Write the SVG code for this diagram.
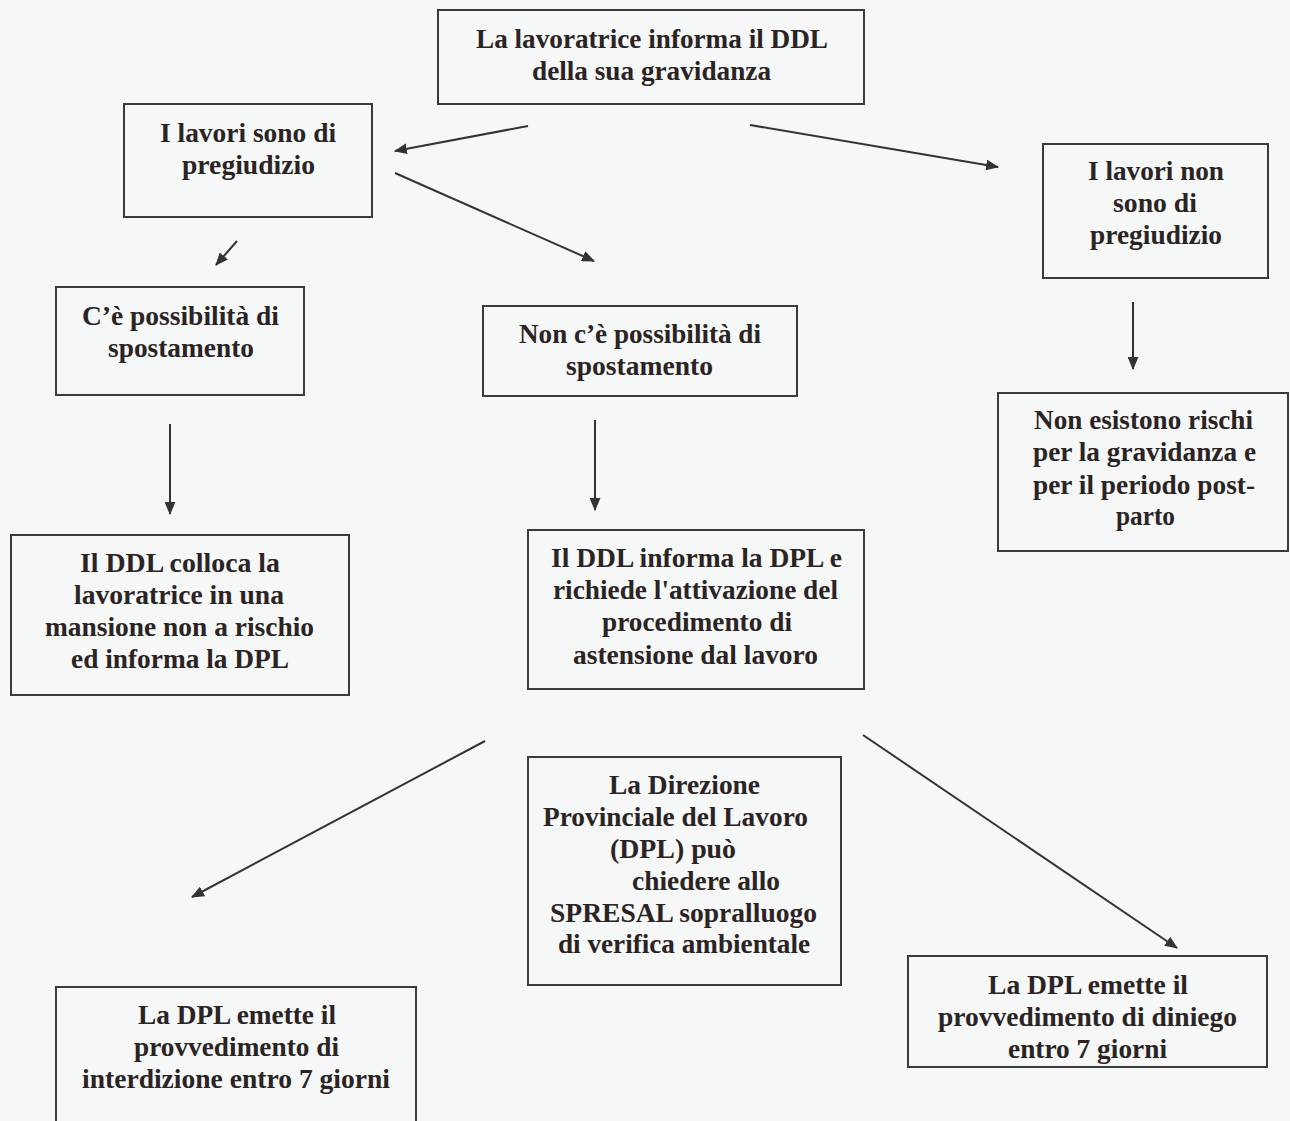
<svg xmlns="http://www.w3.org/2000/svg" width="1290" height="1121" viewBox="0 0 1290 1121">
<style>
.bg{fill:#f6f7f7}
.box{fill:none;stroke:#3a3a3a;stroke-width:2}
.t{font-family:"Liberation Serif","Times New Roman",serif;font-weight:bold;font-size:28px;fill:#2b2424}
.c{stroke:#333;stroke-width:2;fill:none;marker-end:url(#ah)}
</style>
<defs>
<marker id="ah" viewBox="0 0 12 10" refX="11" refY="5" markerWidth="13" markerHeight="11" markerUnits="userSpaceOnUse" orient="auto">
<path d="M0,0 L12,5 L0,10 z" fill="#333"/>
</marker>
</defs>
<rect class="bg" x="0" y="0" width="1290" height="1121"/>
<g id="connectors">
<line class="c" x1="528" y1="126" x2="395" y2="151"/>
<line class="c" x1="750" y1="125" x2="998" y2="167"/>
<line class="c" x1="237" y1="241" x2="216" y2="265"/>
<line class="c" x1="395" y1="173" x2="594" y2="261"/>
<line class="c" x1="170" y1="424" x2="170" y2="514"/>
<line class="c" x1="595" y1="420" x2="595" y2="510"/>
<line class="c" x1="1133" y1="302" x2="1133" y2="369"/>
<line class="c" x1="485" y1="741" x2="192" y2="897"/>
<line class="c" x1="863" y1="735" x2="1177" y2="948"/>
</g>
<g id="nA"><rect class="box" x="438" y="10" width="426" height="94"/>
<text class="t" x="476" y="48" textLength="352" lengthAdjust="spacingAndGlyphs">La lavoratrice informa il DDL</text>
<text class="t" x="532" y="80" textLength="239" lengthAdjust="spacingAndGlyphs">della sua gravidanza</text></g>
<g id="nB"><rect class="box" x="124" y="104" width="248" height="113"/>
<text class="t" x="160" y="142" textLength="176" lengthAdjust="spacingAndGlyphs">I lavori sono di</text>
<text class="t" x="182" y="174" textLength="133" lengthAdjust="spacingAndGlyphs">pregiudizio</text></g>
<g id="nC"><rect class="box" x="1043" y="144" width="225" height="134"/>
<text class="t" x="1088" y="180" textLength="136" lengthAdjust="spacingAndGlyphs">I lavori non</text>
<text class="t" x="1113" y="212" textLength="84" lengthAdjust="spacingAndGlyphs">sono di</text>
<text class="t" x="1090" y="244" textLength="132" lengthAdjust="spacingAndGlyphs">pregiudizio</text></g>
<g id="nD"><rect class="box" x="56" y="287" width="248" height="108"/>
<text class="t" x="82" y="325" textLength="197" lengthAdjust="spacingAndGlyphs">C’è possibilità di</text>
<text class="t" x="108" y="357" textLength="146" lengthAdjust="spacingAndGlyphs">spostamento</text></g>
<g id="nE"><rect class="box" x="483" y="306" width="314" height="90"/>
<text class="t" x="519" y="343" textLength="242" lengthAdjust="spacingAndGlyphs">Non c’è possibilità di</text>
<text class="t" x="566" y="375" textLength="147" lengthAdjust="spacingAndGlyphs">spostamento</text></g>
<g id="nF"><rect class="box" x="998" y="393" width="290" height="158"/>
<text class="t" x="1034" y="429" textLength="219" lengthAdjust="spacingAndGlyphs">Non esistono rischi</text>
<text class="t" x="1033" y="461" textLength="223" lengthAdjust="spacingAndGlyphs">per la gravidanza e</text>
<text class="t" x="1033" y="494" textLength="222" lengthAdjust="spacingAndGlyphs">per il periodo post-</text>
<text class="t" x="1116" y="525" textLength="59" lengthAdjust="spacingAndGlyphs">parto</text></g>
<g id="nG"><rect class="box" x="11" y="535" width="338" height="160"/>
<text class="t" x="80" y="572" textLength="200" lengthAdjust="spacingAndGlyphs">Il DDL colloca la</text>
<text class="t" x="74" y="604" textLength="210" lengthAdjust="spacingAndGlyphs">lavoratrice in una</text>
<text class="t" x="45" y="636" textLength="269" lengthAdjust="spacingAndGlyphs">mansione non a rischio</text>
<text class="t" x="71" y="668" textLength="218" lengthAdjust="spacingAndGlyphs">ed informa la DPL</text></g>
<g id="nH"><rect class="box" x="528" y="530" width="336" height="159"/>
<text class="t" x="551" y="567" textLength="291" lengthAdjust="spacingAndGlyphs">Il DDL informa la DPL e</text>
<text class="t" x="553" y="599" textLength="285" lengthAdjust="spacingAndGlyphs">richiede l'attivazione del</text>
<text class="t" x="602" y="631" textLength="190" lengthAdjust="spacingAndGlyphs">procedimento di</text>
<text class="t" x="573" y="664" textLength="245" lengthAdjust="spacingAndGlyphs">astensione dal lavoro</text></g>
<g id="nI"><rect class="box" x="528" y="757" width="313" height="228"/>
<text class="t" x="609" y="794" textLength="151" lengthAdjust="spacingAndGlyphs">La Direzione</text>
<text class="t" x="543" y="826" textLength="265" lengthAdjust="spacingAndGlyphs">Provinciale del Lavoro</text>
<text class="t" x="610" y="858" textLength="126" lengthAdjust="spacingAndGlyphs">(DPL) può</text>
<text class="t" x="632" y="890" textLength="148" lengthAdjust="spacingAndGlyphs">chiedere allo</text>
<text class="t" x="550" y="922" textLength="267" lengthAdjust="spacingAndGlyphs">SPRESAL sopralluogo</text>
<text class="t" x="558" y="953" textLength="252" lengthAdjust="spacingAndGlyphs">di verifica ambientale</text></g>
<g id="nJ"><rect class="box" x="56" y="987" width="360" height="140"/>
<text class="t" x="138" y="1024" textLength="198" lengthAdjust="spacingAndGlyphs">La DPL emette il</text>
<text class="t" x="134" y="1056" textLength="205" lengthAdjust="spacingAndGlyphs">provvedimento di</text>
<text class="t" x="82" y="1088" textLength="308" lengthAdjust="spacingAndGlyphs">interdizione entro 7 giorni</text></g>
<g id="nK"><rect class="box" x="908" y="956" width="359" height="111"/>
<text class="t" x="988" y="994" textLength="200" lengthAdjust="spacingAndGlyphs">La DPL emette il</text>
<text class="t" x="938" y="1026" textLength="299" lengthAdjust="spacingAndGlyphs">provvedimento di diniego</text>
<text class="t" x="1008" y="1058" textLength="159" lengthAdjust="spacingAndGlyphs">entro 7 giorni</text></g>
</svg>
